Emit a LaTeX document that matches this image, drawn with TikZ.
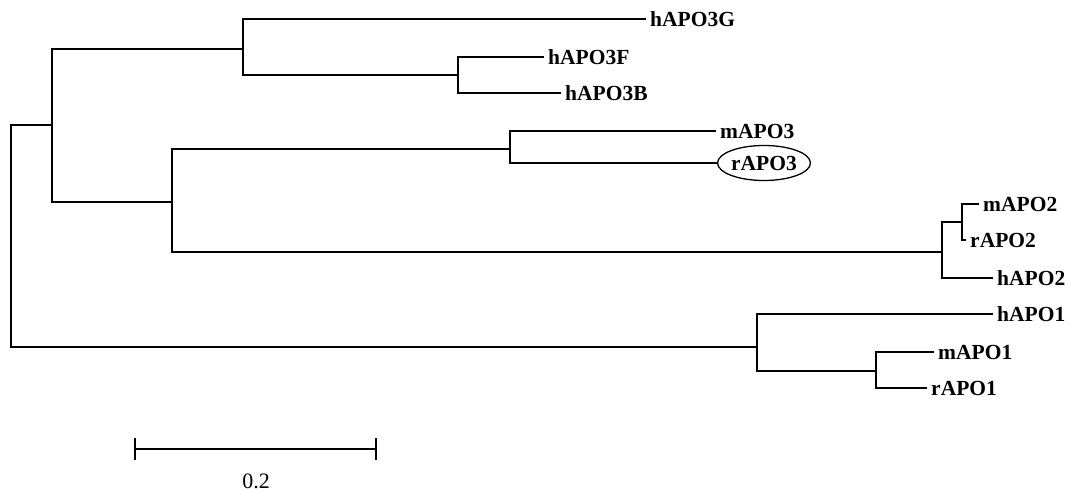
\documentclass[tikz,border=0pt]{standalone}
\usepackage{fontspec}
\setmainfont{Liberation Serif}
\usetikzlibrary{shapes.geometric}
\begin{document}
\begin{tikzpicture}[x=1pt,y=-1pt,
  branch/.style={line width=2.2pt,line cap=rect},
  lbl/.style={font=\fontsize{21.5}{24}\selectfont\bfseries},
  leaf/.style={lbl,anchor=west,inner xsep=5pt,inner ysep=0pt},
  circled/.style={lbl,ellipse,draw,line width=1.3pt,minimum width=80pt,minimum height=35pt,inner sep=0pt}]
\useasboundingbox (0,0) rectangle (1079,492);
% internal nodes
\coordinate (r) at (11,236);
\coordinate (A) at (52,125);
\coordinate (B) at (243,49);
\coordinate (C) at (172,202);
\coordinate (D) at (458,75);
\coordinate (E) at (510,149);
\coordinate (F) at (942,252);
\coordinate (G) at (962,222);
\coordinate (H) at (757,347);
\coordinate (I) at (876,371);
% leaves
\node[leaf] (l1) at (645,19) {hAPO3G};
\node[leaf] (l2) at (543,57) {hAPO3F};
\node[leaf] (l3) at (560,93) {hAPO3B};
\node[leaf] (l4) at (715,131) {mAPO3};
\node[circled] (l5) at (764,163) {rAPO3};
\node[leaf] (l6) at (978,204) {mAPO2};
\node[leaf] (l7) at (965,240) {rAPO2};
\node[leaf] (l8) at (992,278) {hAPO2};
\node[leaf] (l9) at (992,314) {hAPO1};
\node[leaf] (l10) at (933,352) {mAPO1};
\node[leaf] (l11) at (926,388) {rAPO1};
% branches
\draw[branch] (r) |- (A);
\draw[branch] (r) |- (H);
\draw[branch] (A) |- (B);
\draw[branch] (A) |- (C);
\draw[branch] (B) |- (l1);
\draw[branch] (B) |- (D);
\draw[branch] (D) |- (l2);
\draw[branch] (D) |- (l3);
\draw[branch] (C) |- (E);
\draw[branch] (C) |- (F);
\draw[branch] (E) |- (l4);
\draw[branch] (E) |- (l5);
\draw[branch] (F) |- (G);
\draw[branch] (F) |- (l8);
\draw[branch] (G) |- (l6);
\draw[branch] (G) |- (l7);
\draw[branch] (H) |- (l9);
\draw[branch] (H) |- (I);
\draw[branch] (I) |- (l10);
\draw[branch] (I) |- (l11);
% scale bar
\coordinate (s1) at (135,449);
\coordinate (s2) at (376,449);
\draw[line width=2pt] (s1) -- (s2);
\draw[line width=2.4pt] ([yshift=-11pt]s1) -- ([yshift=11pt]s1);
\draw[line width=2.4pt] ([yshift=-11pt]s2) -- ([yshift=11pt]s2);
\node[lbl,font=\fontsize{22}{24}\selectfont,inner sep=0pt] (sl) at (256,481) {0.2};
\end{tikzpicture}
\end{document}
